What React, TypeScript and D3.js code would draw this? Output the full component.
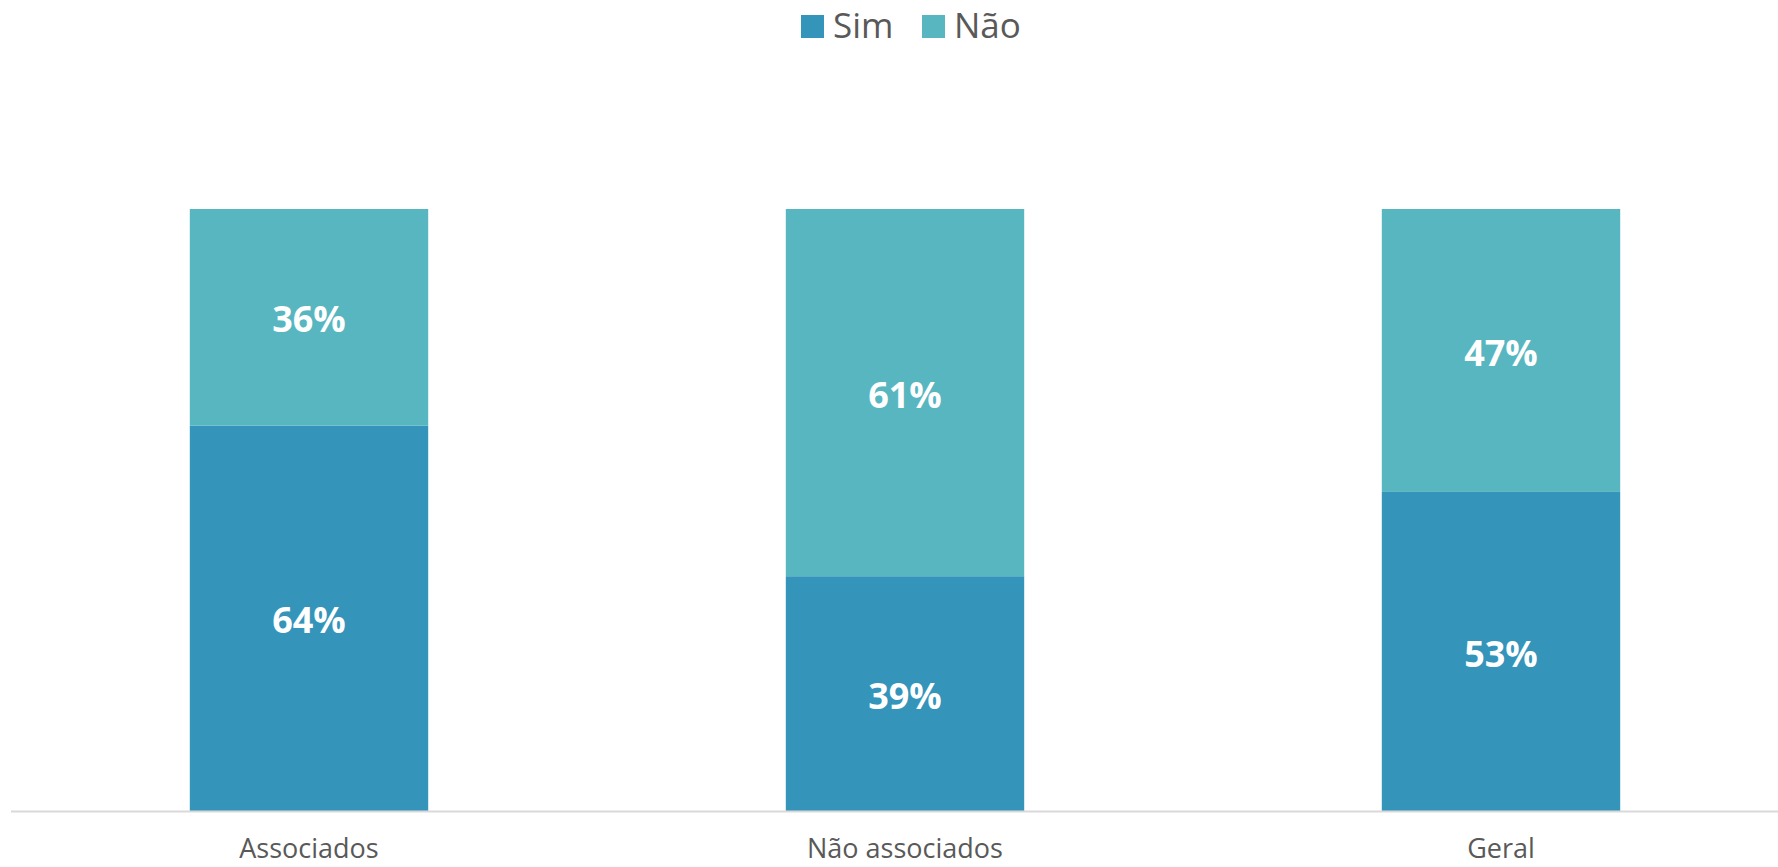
import React from "react";
import * as d3 from "d3";

const categories = ["Associados", "Não associados", "Geral"];
const seriesNames = ["Sim", "Não"];
const simValues = [0.64, 0.39, 0.53];
const naoValues = [0.36, 0.61, 0.47];
const colors = ["#3494BA", "#58B6C0"];

const W = 1778;
const H = 867;
const FONT = "'Open Sans', 'Noto Sans', sans-serif";

export default function App() {
  const x = d3
    .scaleBand<string>()
    .domain(categories)
    .range([11, 1799])
    .paddingInner(0.6)
    .paddingOuter(0.3);
  const y = d3.scaleLinear().domain([0, 1]).range([811, 209]);

  const rows = categories.map((c, i) => ({ cat: c, Sim: simValues[i], Não: naoValues[i] }));
  const stack = d3.stack<any>().keys(seriesNames);
  const series = stack(rows);
  const fmt = d3.format(".0%");

  const legendItems = [
    { name: seriesNames[0], sx: 801, tx: 833 },
    { name: seriesNames[1], sx: 922, tx: 954 },
  ];

  return (
    <svg
      width={W}
      height={H}
      style={{ position: "absolute", left: 0, top: 0, background: "#fff" }}
      fontFamily={FONT}
    >
      {series.map((s, si) => (
        <g key={s.key}>
          {s.map((d, i) => {
            const x0 = x(categories[i])!;
            const y0 = y(d[1]);
            const y1 = y(d[0]);
            return (
              <g key={i}>
                <rect x={x0} y={y0} width={x.bandwidth()} height={y1 - y0} fill={colors[si]} />
                <text
                  x={x0 + x.bandwidth() / 2}
                  y={(y0 + y1) / 2}
                  dy="0.42em"
                  textAnchor="middle"
                  fill="#fff"
                  fontWeight={700}
                  fontSize={36}
                >
                  {fmt(d[1] - d[0])}
                </text>
              </g>
            );
          })}
        </g>
      ))}
      <line x1={11} x2={W} y1={811.5} y2={811.5} stroke="#D9D9D9" strokeWidth={2} />
      {categories.map((c) => (
        <text
          key={c}
          x={x(c)! + x.bandwidth() / 2}
          y={858}
          textAnchor="middle"
          fill="#595959"
          fontSize={27}
        >
          {c}
        </text>
      ))}
      {legendItems.map((l, i) => (
        <g key={l.name}>
          <rect x={l.sx} y={15} width={23} height={23} fill={colors[i]} />
          <text x={l.tx} y={38} fill="#595959" fontSize={35}>
            {l.name}
          </text>
        </g>
      ))}
    </svg>
  );
}
